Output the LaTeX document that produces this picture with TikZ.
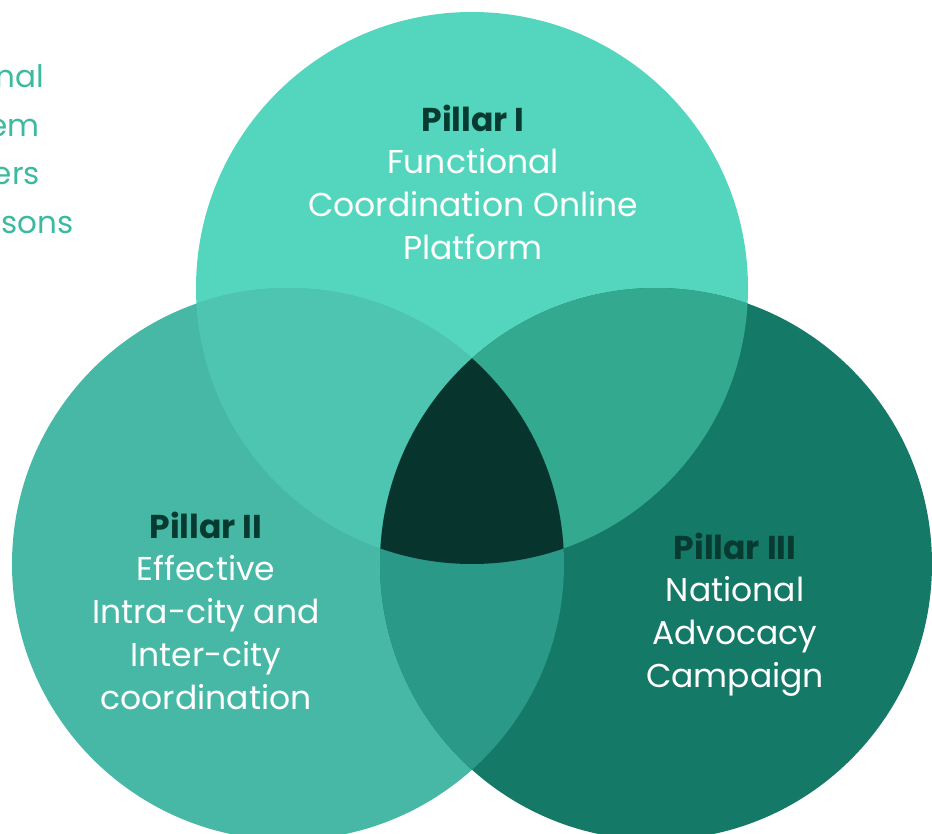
\documentclass[tikz,border=0pt]{standalone}
\usepackage{fontspec}
\setmainfont{Poppins}
\usetikzlibrary{positioning}
\definecolor{pillarA}{HTML}{53D6BD}
\definecolor{pillarB}{HTML}{47B8A6}
\definecolor{pillarC}{HTML}{147966}
\definecolor{pillarAB}{HTML}{4EC5B1}
\definecolor{pillarAC}{HTML}{33A98F}
\definecolor{pillarBC}{HTML}{2A9987}
\definecolor{pillarABC}{HTML}{07352E}
\definecolor{headtext}{HTML}{073A30}
\definecolor{sidetext}{HTML}{3DB9A0}
\begin{document}
\begin{tikzpicture}[x=1pt, y=-1pt,
  head/.style={font=\fontsize{33}{43}\selectfont\bfseries, text=headtext},
  body/.style={font=\fontsize{33}{43}\selectfont, text=white, align=center},
  side/.style={font=\fontsize{31}{49}\selectfont, text=sidetext, anchor=base east, inner sep=0pt}]
\useasboundingbox (0,0) rectangle (932,834);
% circle centres
\coordinate (A) at (472,288);
\coordinate (B) at (288,564);
\coordinate (C) at (656,564);
\def\rad{276}
\fill[pillarA] (A) circle[radius=\rad];
\fill[pillarB] (B) circle[radius=\rad];
\fill[pillarC] (C) circle[radius=\rad];
% overlaps
\begin{scope}
  \clip (A) circle[radius=\rad];
  \fill[pillarAB] (B) circle[radius=\rad];
  \fill[pillarAC] (C) circle[radius=\rad];
\end{scope}
\begin{scope}
  \clip (B) circle[radius=\rad];
  \fill[pillarBC] (C) circle[radius=\rad];
  \clip (C) circle[radius=\rad];
  \fill[pillarABC] (A) circle[radius=\rad];
\end{scope}
% cut-off side text
\node[side] (s1) at (44,88) {nal};
\node[side] (s2) at (40,137) {em};
\node[side] (s3) at (40,185) {ers};
\node[side] (s4) at (74,234) {sons};
% pillar labels
\node[head] (p1) at (473,118) {Pillar I};
\node[body, below=10pt of p1] (t1) {Functional\\Coordination Online\\Platform};
\node[head] (p2) at (206,525) {Pillar II};
\node[body, below=10pt of p2] (t2) {Effective\\Intra-city and\\Inter-city\\coordination};
\node[head] (p3) at (735,546) {Pillar III};
\node[body, below=10pt of p3] (t3) {National\\Advocacy\\Campaign};
\end{tikzpicture}
\end{document}
